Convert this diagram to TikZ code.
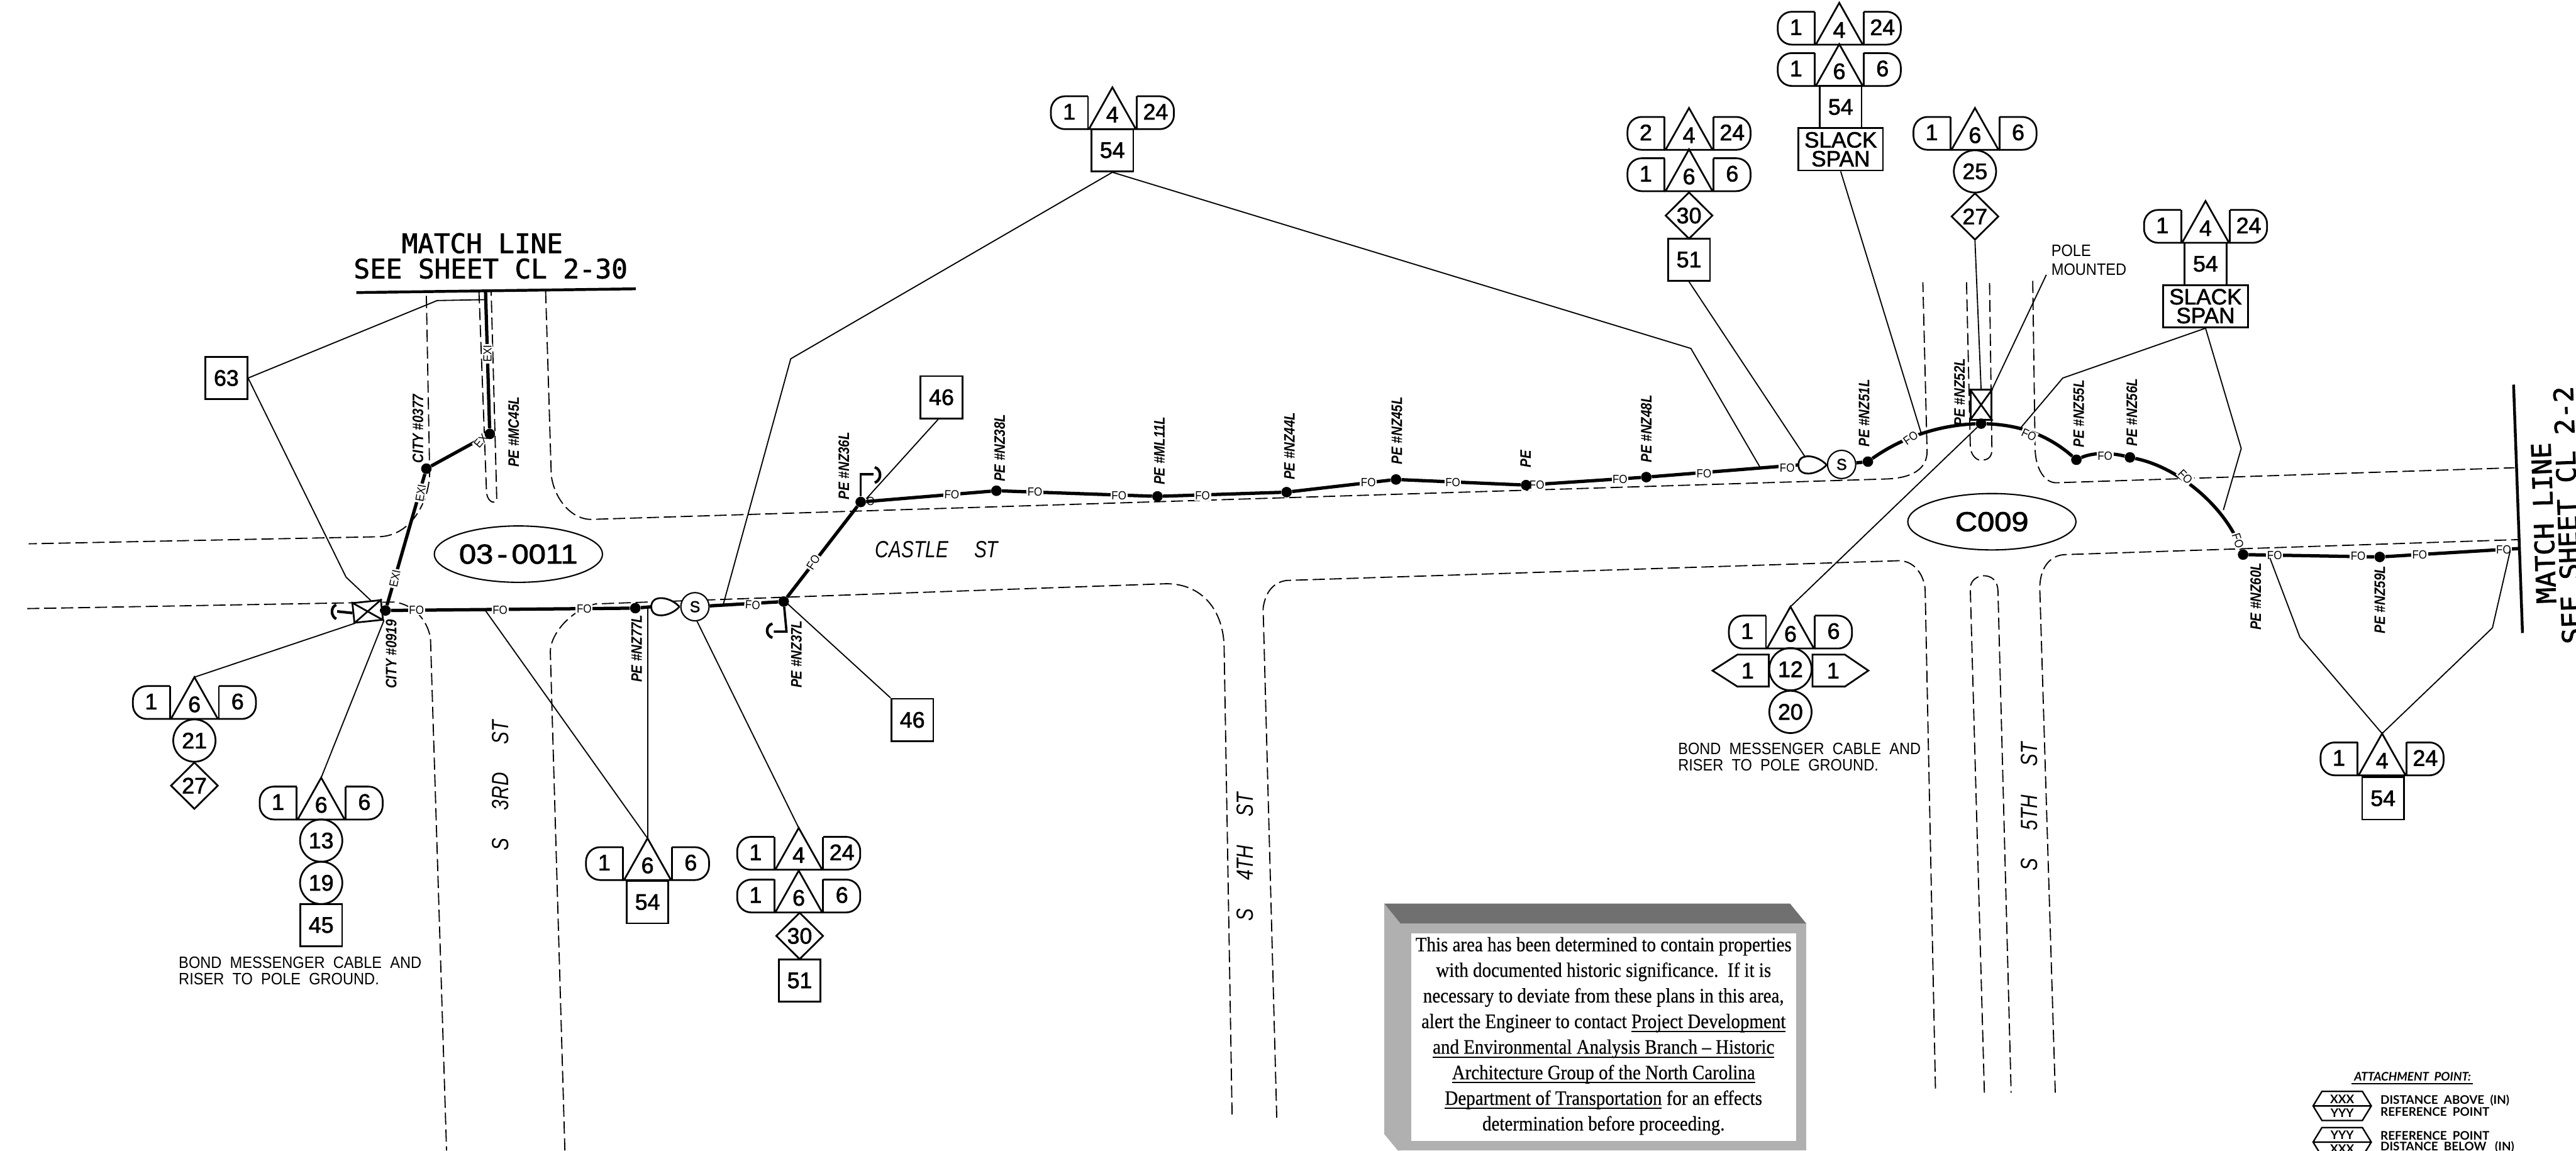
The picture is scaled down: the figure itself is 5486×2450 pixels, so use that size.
\documentclass[tikz,border=0pt]{standalone}
\usepackage{fontspec}
\usetikzlibrary{shapes.geometric}
\setmainfont{Liberation Sans}
\newfontfamily\numf[FakeBold=1.8]{Liberation Sans}
\newfontfamily\ovalf[FakeBold=2,FakeStretch=1.12]{Liberation Sans}
\newfontfamily\monof[FakeBold=1.8]{DejaVu Sans Mono}
\newfontfamily\thinf[FakeStretch=0.9]{Liberation Sans}
\newfontfamily\polef[FakeStretch=0.85]{Liberation Sans}
\newfontfamily\roadf[FakeStretch=0.8]{Liberation Sans}
\newfontfamily\serf[FakeStretch=0.89,FakeBold=.5]{Liberation Serif}
\newfontfamily\legf{Lato}
\newcounter{foc}
\newsavebox\ulbox
\newcommand{\ul}[1]{\sbox\ulbox{#1}\rlap{\rule[-2.4pt]{\wd\ulbox}{.75pt}}\usebox\ulbox}
\tikzset{
  shp/.style={line width=1.05pt,draw=black},
  ldr/.style={line width=.7pt,draw=black},
  rd/.style={line width=.7pt,draw=black,dash pattern=on .26cm off .10cm},
  fib/.style={line width=2pt,draw=black},
  txt/.style={inner sep=0pt,font=\numf\fontsize{13.6}{14}\selectfont},
  numbox/.style={txt,draw,line width=1.05pt,minimum width=.89cm,minimum height=.9cm},
  numcirc/.style={txt,shape=ellipse,draw,line width=1.05pt,minimum width=.9cm,minimum height=.9cm},
  numdia/.style={txt,shape=diamond,draw,line width=1.05pt,minimum width=1.01cm,minimum height=1cm},
  slackbox/.style={txt,draw,line width=1.05pt,minimum width=1.8cm,minimum height=.9cm,align=center,font=\numf\fontsize{13.4}{11.4}\selectfont},
  polept/.style={shape=circle,fill=black,inner sep=0pt,minimum size=.22cm},
  splice/.style={shape=circle,draw,line width=.8pt,fill=white,inner sep=0pt,minimum size=.6cm,font=\numf\fontsize{9.5}{10}\selectfont},
  tagl/.style={fill=white,inner sep=.6pt,font=\thinf\fontsize{7.2}{8}\selectfont},
  polelbl/.style={inner sep=0pt,rotate=90,font=\polef\bfseries\itshape\fontsize{9.2}{10}\selectfont},
  notel/.style={inner sep=0pt,align=left,font=\thinf\fontsize{10}{9.9}\selectfont},
  roadn/.style={inner sep=0pt,font=\roadf\itshape\fontsize{14.2}{15}\selectfont},
  xbox/.style={draw,line width=1.05pt,fill=white,inner sep=0pt},
  ovalb/.style={shape=ellipse,draw,line width=.8pt,minimum width=3.58cm,minimum height=1.2cm,inner sep=0pt,font=\ovalf\fontsize{16.6}{18}\selectfont},
  matchl/.style={inner sep=0pt,font=\monof\fontsize{16.2}{17}\selectfont},
}
\newcommand{\Trio}[6]{%
  \begin{scope}[shift={(#2,#3)}]
    \draw[shp,fill=white] (-50,0) -- (0,-89) -- (50,0) -- cycle;
    \draw[shp,rounded corners=.3cm] (-52,-70) -- (-131,-70) -- (-131,0) -- (-52,0);
    \draw[shp] (-52,-70) -- (-52,0);
    \draw[shp,rounded corners=.3cm] (52,-70) -- (131,-70) -- (131,0) -- (52,0);
    \draw[shp] (52,-70) -- (52,0);
    \coordinate (#1a) at (0,-89);
    \node[txt] (#1l) at (-92,-37) {#4};
    \node[txt] (#1m) at (0,-31) {#5};
    \node[txt] (#1r) at (92,-37) {#6};
  \end{scope}}
\newcommand{\Tear}[3]{%
  \coordinate (#1) at (#2,#3);
  \draw[shp,fill=white] (#1) .. controls (#2-20,#3-22) and (#2-60,#3-27) .. (#2-60,#3) .. controls (#2-60,#3+27) and (#2-20,#3+22) .. (#1);}
\newcommand{\FO}[4][FO]{\stepcounter{foc}\node[tagl,rotate=#4] (fo\arabic{foc}) at (#2,#3) {#1};}
\begin{document}
\begin{tikzpicture}[x=.01cm,y=-.01cm]
\useasboundingbox (0,0) rectangle (5486,2450);
\clip (0,0) rectangle (5486,2450);
% ---- roads
\draw[rd] (908,630) -- (915,1006) .. controls (915,1060) and (880,1143) .. (804,1143) -- (61,1158);
\draw[rd] (1162,620) -- (1174,1012) .. controls (1180,1060) and (1215,1106) .. (1259,1106) -- (4015,1020) .. controls (4085,1018) and (4104,990) .. (4104,961) -- (4095,601);
\draw[rd] (1020,620) -- (1036,1045) .. controls (1036,1065) and (1050,1075) .. (1058,1066) -- (1046,620);
\draw[rd] (58,1296) -- (840,1282) .. controls (895,1290) and (917,1340) .. (917,1366) -- (951,2450);
\draw[rd] (1203,2450) -- (1172,1388) .. controls (1172,1350) and (1215,1300) .. (1268,1286) -- (2484,1243) .. controls (2560,1243) and (2607,1300) .. (2607,1382) -- (2624,2380);
\draw[rd] (2719,2380) -- (2690,1295) .. controls (2695,1260) and (2712,1240) .. (2740,1236) -- (4044,1194) .. controls (4080,1194) and (4100,1230) .. (4100,1260) -- (4122,2327);
\draw[rd] (4226,2327) -- (4196,1253) .. controls (4196,1235) and (4212,1226) .. (4225,1226) .. controls (4240,1226) and (4255,1235) .. (4255,1261) -- (4283,2327);
\draw[rd] (4377,2327) -- (4344,1253) .. controls (4344,1210) and (4365,1182) .. (4398,1181) -- (5365,1149);
\draw[rd] (4188,601) -- (4196,948) .. controls (4196,970) and (4210,980) .. (4218,980) .. controls (4232,980) and (4243,975) .. (4242,955) -- (4237,599);
\draw[rd] (4329,598) -- (4334,955) .. controls (4335,1000) and (4355,1028) .. (4379,1028) -- (5355,996);
% ---- match lines
\draw[line width=1.7pt] (759,623) -- (1354,615);
\node[matchl] (ml1) at (1027,518) {MATCH LINE};
\node[matchl] (ml2) at (1045,572) {SEE SHEET CL 2-30};
\draw[line width=1.7pt] (5353,819) -- (5372,1348);
\node[matchl,rotate=92] (ml3) at (5417,1114) {MATCH LINE};
\node[matchl,rotate=92] (ml4) at (5468,1097) {SEE SHEET CL 2-2};
% ---- ovals
\node[ovalb] (o1) at (1104,1180) {03\kern.15em-\kern.15em0011};
\node[ovalb] (o2) at (4242,1111) {C009};
% ---- street names
\node[roadn] (castle) at (1995,1170) {CASTLE\hspace{.55cm}ST};
\node[roadn,rotate=90] (s3rd) at (1065,1673) {S\hspace{.6cm}3RD\hspace{.6cm}ST};
\node[roadn,rotate=90] (s4th) at (2652,1825) {S\hspace{.6cm}4TH\hspace{.6cm}ST};
\node[roadn,rotate=90] (s5th) at (4322,1718) {S\hspace{.6cm}5TH\hspace{.6cm}ST};
% ---- poles
\node[polept] (p919) at (821,1300) {};
\node[polept] (p377) at (908,998) {};
\node[polept] (pmc45) at (1043,924) {};
\node[polept] (p77) at (1353,1295) {};
\node[polept] (p37) at (1669,1281) {};
\node[polept] (p36) at (1833,1069) {};
\node[polept] (p38) at (2122,1045) {};
\node[polept] (pml11) at (2465,1057) {};
\node[polept] (p44) at (2740,1048) {};
\node[polept] (p45) at (2973,1021) {};
\node[polept] (ppe) at (3250,1033) {};
\node[polept] (p48) at (3506,1016) {};
\node[polept] (p51) at (3978,983) {};
\node[polept] (p52) at (4219,902) {};
\node[polept] (p55) at (4422,979) {};
\node[polept] (p56) at (4536,974) {};
\node[polept] (p60) at (4777,1181) {};
\node[polept] (p59) at (5068,1186) {};
\coordinate (mlTop) at (1034,620);
\coordinate (mlEnd) at (5365,1168);
% ---- cross boxes, splices
\node[xbox,rotate=6,minimum width=.61cm,minimum height=.42cm] (xb1) at (783,1302) {};
\draw[shp] (xb1.north west) -- (xb1.south east) (xb1.north east) -- (xb1.south west);
\node[xbox,minimum width=.45cm,minimum height=.64cm] (xb2) at (4219,862) {};
\draw[shp] (xb2.north west) -- (xb2.south east) (xb2.north east) -- (xb2.south west);
% ---- fibre
\draw[fib] (mlTop) -- (pmc45) -- (p377) -- (p919) -- (p77);
\draw[fib] (p919) -- (xb1);
\draw[fib] (p77) -- (1388,1292);
\node[splice] (s1) at (1480,1292) {S};
\Tear{t1}{1447}{1292}
\draw[fib] (s1) -- (p37) -- (p36) -- (p38) -- (pml11) -- (p44) -- (p45) -- (ppe) -- (p48) -- (3830,990);
\node[splice] (s2) at (3922,989) {S};
\Tear{t2}{3890}{990}
\draw[fib] (s2) -- (p51) .. controls (4060,925) and (4140,905) .. (p52) .. controls (4300,905) and (4360,925) .. (p55) .. controls (4460,962) and (4500,965) .. (p56) .. controls (4640,995) and (4740,1080) .. (p60) -- (p59) -- (mlEnd);
% hooks
\draw[line width=1.6pt] (xb1.west) -- (718,1302);
\draw[line width=1.6pt] (716,1288) .. controls (704,1292) and (704,1312) .. (716,1318);
\draw[line width=1.4pt] (p36) -- (1833,1010) -- (1860,1010);
\draw[line width=1.6pt] (1863,995) .. controls (1878,1000) and (1878,1022) .. (1863,1028);
\draw[line width=1.4pt] (p37) -- (1675,1345) -- (1648,1345);
\draw[line width=1.6pt] (1645,1328) .. controls (1630,1332) and (1630,1354) .. (1645,1358);
% ---- cable tags
\FO[EXI]{1038}{753}{90}
\FO[EX]{1024}{939}{50}
\FO[EXI]{896}{1050}{80}
\FO[EXI]{841}{1232}{78}
\FO{887}{1299}{0}
\FO{1065}{1299}{0}
\FO{1244}{1297}{0}
\FO{1603}{1288}{-3}
\FO{1732}{1197}{58}
\FO{2027}{1053}{-3}
\FO{2204}{1048}{0}
\FO{2383}{1055}{0}
\FO{2561}{1055}{0}
\FO{2914}{1027}{0}
\FO{3094}{1027}{0}
\FO{3273}{1033}{0}
\FO{3450}{1021}{0}
\FO{3629}{1009}{0}
\FO{3806}{996}{0}
\FO{4069}{933}{35}
\FO{4321}{926}{-25}
\FO{4483}{971}{0}
\FO{4654}{1015}{-45}
\FO{4766}{1151}{-72}
\FO{4844}{1183}{0}
\FO{5022}{1184}{0}
\FO{5153}{1181}{0}
\FO{5332}{1170}{0}
\node[tagl,fill=none] (o36) at (1854,1068) {O};
% dots on top
\foreach \n in {p919,p377,pmc45,p77,p37,p36,p38,pml11,p44,p45,ppe,p48,p51,p52,p55,p56,p60,p59}
  \fill (\n) circle (.11cm);
% ---- pole labels
\node[polelbl] (l377) at (890,913) {CITY \#0377};
\node[polelbl] (lmc45) at (1094,920) {PE \#MC45L};
\node[polelbl] (l919) at (833,1393) {CITY \#0919};
\node[polelbl] (l77) at (1356,1381) {PE \#NZ77L};
\node[polelbl] (l37) at (1696,1393) {PE \#NZ37L};
\node[polelbl] (l36) at (1797,992) {PE \#NZ36L};
\node[polelbl] (l38) at (2129,954) {PE \#NZ38L};
\node[polelbl] (lml11) at (2469,960) {PE \#ML11L};
\node[polelbl] (l44) at (2746,950) {PE \#NZ44L};
\node[polelbl] (l45) at (2975,917) {PE \#NZ45L};
\node[polelbl] (lpe) at (3249,977) {PE};
\node[polelbl] (l48) at (3506,913) {PE \#NZ48L};
\node[polelbl] (l51) at (3970,880) {PE \#NZ51L};
\node[polelbl] (l52) at (4173,835) {PE \#NZ52L};
\node[polelbl] (l55) at (4427,881) {PE \#NZ55L};
\node[polelbl] (l56) at (4540,878) {PE \#NZ56L};
\node[polelbl] (l60) at (4804,1270) {PE \#NZ60L};
\node[polelbl] (l59) at (5068,1277) {PE \#NZ59L};
% ---- callouts
\node[numbox] (b63) at (482,805) {63};
\node[numbox] (b46a) at (2005,846) {46};
\node[numbox] (b46b) at (1943,1533) {46};
\Trio{ga}{414}{1531}{1}{6}{6}
\node[numcirc] (ga1) at (414,1577) {21};
\node[numdia] (ga2) at (414,1673) {27};
\Trio{gb}{684}{1745}{1}{6}{6}
\node[numcirc] (gb1) at (684,1790) {13};
\node[numcirc] (gb2) at (684,1880) {19};
\node[numbox] (gb3) at (684,1970) {45};
\Trio{gc}{1379}{1874}{1}{6}{6}
\node[numbox] (gc1) at (1379,1921) {54};
\Trio{gd}{1701}{1852}{1}{4}{24}
\Trio{gd2}{1701}{1943}{1}{6}{6}
\node[numdia] (gd3) at (1703,1993) {30};
\node[numbox] (gd4) at (1703,2088) {51};
\Trio{ge}{2369}{275}{1}{4}{24}
\node[numbox] (ge1) at (2369,320) {54};
\Trio{gf}{3597}{319}{2}{4}{24}
\Trio{gf2}{3597}{407}{1}{6}{6}
\node[numdia] (gf3) at (3597,459) {30};
\node[numbox] (gf4) at (3597,553) {51};
\Trio{gg}{3917}{95}{1}{4}{24}
\Trio{gg2}{3917}{183}{1}{6}{6}
\node[numbox] (gg3) at (3920,228) {54};
\node[slackbox] (gg4) at (3920,318) {SLACK\\SPAN};
\Trio{gh}{4206}{319}{1}{6}{6}
\node[numcirc] (gh1) at (4206,365) {25};
\node[numdia] (gh2) at (4206,461) {27};
\Trio{gi}{4697}{517}{1}{4}{24}
\node[numbox] (gi1) at (4697,562) {54};
\node[slackbox] (gi2) at (4697,652) {SLACK\\SPAN};
\Trio{gj}{5073}{1651}{1}{4}{24}
\node[numbox] (gj1) at (5075,1700) {54};
% C009 callout
\Trio{gk}{3813}{1381}{1}{6}{6}
\draw[shp] (3767,1394) -- (3700,1394) -- (3647,1428) -- (3700,1462) -- (3767,1462) -- cycle;
\draw[shp] (3860,1394) -- (3929,1394) -- (3979,1428) -- (3929,1462) -- (3860,1462) -- cycle;
\node[txt] (gk1) at (3722,1428) {1};
\node[txt] (gk2) at (3904,1428) {1};
\node[numcirc] (gk3) at (3813,1425) {12};
\node[numcirc] (gk4) at (3813,1516) {20};
% ---- leaders
\coordinate (c1) at (931,640); \coordinate (c2) at (1036,638);
\draw[ldr] (b63.east) -- (c1) -- (c2);
\coordinate (c3) at (737,1229); \coordinate (c4) at (790,1279);
\draw[ldr] (b63.east) -- (c3) -- (c4);
\draw[ldr] (gaa) -- (xb1.south west);
\draw[ldr] (gba) -- (xb1.south east);
\coordinate (c5) at (1033,1299); \coordinate (c6) at (1379,1295);
\draw[ldr] (gca) -- (c5);
\draw[ldr] (gca) -- (c6);
\coordinate (c7) at (1484,1322);
\draw[ldr] (gda) -- (c7);
\coordinate (c8) at (1672,1281);
\draw[ldr] (b46b.north west) -- (c8);
\coordinate (c9) at (1845,1062);
\draw[ldr] (b46a.south) ++(-7,0) -- (c9);
\coordinate (c10) at (1684,764); \coordinate (c11) at (1540,1288);
\draw[ldr] (ge1.south) -- (c10) -- (c11);
\coordinate (c12) at (3601,742); \coordinate (c13) at (3750,998);
\draw[ldr] (ge1.south) -- (c12) -- (c13);
\coordinate (c14) at (3845,974);
\draw[ldr] (gf4.south) -- (c14);
\coordinate (c15) at (4091,921);
\draw[ldr] (gg4.south) -- (c15);
\draw[ldr] (gh2.south) -- (xb2.north);
\coordinate (c16) at (4358,585); \coordinate (c17) at (4242,830);
\draw[ldr] (c16) -- (c17);
\coordinate (c18) at (4393,805); \coordinate (c19) at (4300,915);
\draw[ldr] (gi2.south) -- (c18) -- (c19);
\coordinate (c20) at (4773,955); \coordinate (c21) at (4735,1086);
\draw[ldr] (gi2.south) -- (c20) -- (c21);
\coordinate (c22) at (4898,1357); \coordinate (c23) at (4834,1188);
\draw[ldr] (gja) -- (c22) -- (c23);
\coordinate (c24) at (5308,1337); \coordinate (c25) at (5346,1172);
\draw[ldr] (gja) -- (c24) -- (c25);
\draw[ldr] (gka) -- (p52);
% ---- notes
\node[notel,anchor=north west] (n1) at (380,2037) {BOND\ \ MESSENGER\ \ CABLE\ \ AND\\RISER\ \ TO\ \ POLE\ \ GROUND.};
\node[notel,anchor=north west] (n2) at (3573,1581) {BOND\ \ MESSENGER\ \ CABLE\ \ AND\\RISER\ \ TO\ \ POLE\ \ GROUND.};
\node[notel,anchor=north west,font=\thinf\fontsize{10}{11.4}\selectfont] (n3) at (4368,520) {POLE\\MOUNTED};
% ---- notice panel
\fill[gray!62] (2948,1924) -- (2983,1967) -- (2983,2450) -- (2977,2450) -- (2948,2415) -- cycle;
\fill[gray!62] (2983,1967) -- (3847,1967) -- (3847,2450) -- (2983,2450) -- cycle;
\fill[gray!88!black] (2948,1924) -- (3812,1924) -- (3847,1967) -- (2983,1967) -- cycle;
\fill[white] (3005,1988) rectangle (3825,2429);
\node[inner sep=0pt,align=center,font=\serf\fontsize{12.4}{15.5}\selectfont] (panel) at (3415,2206) {%
This area has been determined to contain properties\\
with documented historic significance.\ \ If it is\\
necessary to deviate from these plans in this area,\\
alert the Engineer to contact \ul{Project Development}\\
\ul{and Environmental Analysis Branch – Historic}\\
\ul{Architecture Group of the North Carolina}\\
\ul{Department of Transportation} for an effects\\
determination before proceeding.};
% ---- legend
\node[inner sep=0pt,font=\legf\bfseries\itshape\fontsize{7.2}{8}\selectfont] (lg0) at (5138,2292) {ATTACHMENT\ \ POINT:};
\draw[line width=.8pt] (5008,2308) -- (5266,2308);
\draw[line width=.9pt] (4926,2355) -- (4945,2324) -- (5031,2324) -- (5050,2355) -- (5031,2386) -- (4945,2386) -- cycle (4926,2355) -- (5050,2355);
\draw[line width=.9pt] (4926,2432) -- (4945,2401) -- (5031,2401) -- (5050,2432) -- (5031,2463) -- (4945,2463) -- cycle (4926,2432) -- (5050,2432);
\tikzset{legt/.style={inner sep=0pt,font=\legf\bfseries\fontsize{7.2}{8}\selectfont}}
\node[legt] (lx1) at (4988,2341) {XXX};
\node[legt] (ly1) at (4988,2370) {YYY};
\node[legt] (ly2) at (4988,2417) {YYY};
\node[legt] (lx2) at (4988,2447) {XXX};
\node[legt,anchor=west] (lt1) at (5069,2343) {DISTANCE\ \ ABOVE\ \ (IN)};
\node[legt,anchor=west] (lt2) at (5069,2367) {REFERENCE\ \ POINT};
\node[legt,anchor=west] (lt3) at (5069,2418) {REFERENCE\ \ POINT};
\node[legt,anchor=west] (lt4) at (5069,2443) {DISTANCE\ \ BELOW\ \ \ (IN)};
\end{tikzpicture}
\end{document}
